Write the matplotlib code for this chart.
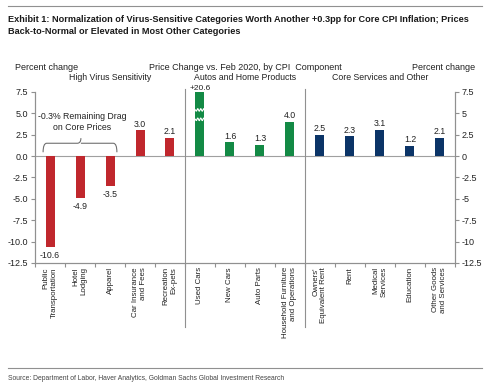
import numpy as np
import matplotlib
matplotlib.use('Agg')
import matplotlib.pyplot as plt
from matplotlib.path import Path
from matplotlib.patches import PathPatch
from matplotlib.lines import Line2D

# ---------------- data ----------------
categories = ['Public\nTransportation', 'Hotel\nLodging', 'Apparel', 'Car Insurance\nand Fees',
              'Recreation\nEx-pets', 'Used Cars', 'New Cars', 'Auto Parts',
              'Household Furniture\nand Operations', "Owners'\nEquivalent Rent", 'Rent',
              'Medical\nServices', 'Education', 'Other Goods\nand Services']
values = [-10.6, -4.9, -3.5, 3.0, 2.1, 20.6, 1.6, 1.3, 4.0, 2.5, 2.3, 3.1, 1.2, 2.1]
group_of = [0, 0, 0, 0, 0, 1, 1, 1, 1, 2, 2, 2, 2, 2]
group_names = ['High Virus Sensitivity', 'Autos and Home Products', 'Core Services and Other']
group_colors = ['#C0272D', '#138A45', '#0B3467']
yticks = [7.5, 5.0, 2.5, 0.0, -2.5, -5.0, -7.5, -10.0, -12.5]

YMIN, YMAX = -12.5, 7.5
FONT = ['Liberation Sans', 'DejaVu Sans']
plt.rcParams['font.family'] = FONT
txt = '#222222'

fig = plt.figure(figsize=(5.0, 3.89), dpi=100)
ax = fig.add_axes([0.07, 0.324, 0.84, 0.4396])

x = np.arange(len(values))
shown = np.clip(values, YMIN, YMAX)
cols = [group_colors[g] for g in group_of]
ax.bar(x, shown, width=0.3, color=cols, zorder=3)

# value labels
for xi, v, s in zip(x, values, shown):
    if v > YMAX:
        ax.text(xi, s + 0.02, f'+{v:.1f}', ha='center', va='bottom', fontsize=6, color=txt)
    elif v >= 0:
        ax.text(xi, s + 0.2, f'{v:.1f}', ha='center', va='bottom', fontsize=6.3, color=txt)
    else:
        ax.text(xi, s - 0.45, f'{v:.1f}', ha='center', va='top', fontsize=6.3, color=txt)

# break marks on truncated bar
for xi, v in zip(x, values):
    if v > YMAX:
        for yb in (4.3, 5.4):
            xs = np.linspace(xi - 0.15, xi + 0.15, 30)
            ax.plot(xs, yb + 0.15 * np.sin((xs - xi) * 2 * np.pi / 0.1), color='white', lw=0.8, zorder=4)

ax.set_xlim(-0.5, len(values) - 0.5)
ax.set_ylim(YMIN, YMAX)
ax.axhline(0, color='#a0a0a0', lw=0.8, zorder=2)

# group separators
bounds = [i + 0.5 for i in range(len(values) - 1) if group_of[i] != group_of[i + 1]]
for b in bounds:
    ax.add_line(Line2D([b, b], [YMAX + 0.3, YMIN - 7.5], color='#909090', lw=0.8, clip_on=False))

ax.set_xticks(np.arange(-0.5, len(values)), minor=False)
ax.set_xticklabels([])
ax.set_xticks(x, minor=True)
ax.set_xticklabels(categories, minor=True, rotation=90, fontsize=5.7, color=txt)
for lab in ax.get_xticklabels(minor=True):
    lab.set_multialignment('right')
ax.tick_params(axis='x', which='minor', length=0, pad=3)
ax.tick_params(axis='x', which='major', length=3, color='#909090')

ax.set_yticks(yticks)
ax.set_yticklabels([f'{t:.1f}' for t in yticks], fontsize=6.5, color=txt)
ax.tick_params(axis='y', length=3, color='#909090', pad=2)

ax2 = ax.twinx()
ax2.set_ylim(YMIN, YMAX)
ax2.set_yticks(yticks)
ax2.set_yticklabels([f'{t:g}' for t in yticks], fontsize=6.5, color=txt)
ax2.tick_params(axis='y', length=3, color='#909090', pad=2)

for a in (ax, ax2):
    a.spines['top'].set_visible(False)
    for s in ('left', 'right', 'bottom'):
        a.spines[s].set_color('#909090')
        a.spines[s].set_linewidth(0.8)

# curly brace over the first three bars
x0, x1, xc = -0.23, 2.23, 1.03
yl, ym, yt = 0.45, 1.5, 2.1
verts = [(x0, yl), (x0, ym), (x0 + 0.12, ym), (xc - 0.12, ym), (xc, ym), (xc, yt),
         (xc, ym), (xc + 0.12, ym), (x1 - 0.12, ym), (x1, ym), (x1, yl)]
codes = [Path.MOVETO, Path.CURVE3, Path.CURVE3, Path.LINETO, Path.CURVE3, Path.CURVE3,
         Path.MOVETO, Path.CURVE3, Path.LINETO, Path.CURVE3, Path.CURVE3]
ax.add_patch(PathPatch(Path(verts, codes), fill=False, ec='#707070', lw=0.8, zorder=3))
ax.text(1.07, 4.0, '-0.3% Remaining Drag\non Core Prices', ha='center', va='center',
        fontsize=6.3, color=txt)

# header texts
fig.text(0.03, 1 - 67 / 389, 'Percent change', fontsize=6.5, color=txt, va='center')
fig.text(0.95, 1 - 67 / 389, 'Percent change', fontsize=6.5, color=txt, va='center', ha='right')
fig.text(0.49, 1 - 67 / 389, 'Price Change vs. Feb 2020, by CPI  Component', fontsize=6.5,
         color=txt, va='center', ha='center')
for g, name in enumerate(group_names):
    gx = np.mean([xi for xi, gg in zip(x, group_of) if gg == g])
    fx = fig.transFigure.inverted().transform(ax.transData.transform((gx, 0)))[0]
    fig.text(fx, 1 - 78 / 389, name, fontsize=6.3, color=txt, va='center', ha='center')

# title, rules and source
fig.add_artist(Line2D([0.016, 0.964], [1 - 6 / 389] * 2, color='#909090', lw=0.8))
fig.add_artist(Line2D([0.016, 0.964], [1 - 368 / 389] * 2, color='#909090', lw=0.8))
t1 = fig.text(0.016, 1 - 19 / 389,
              'Exhibit 1: Normalization of Virus-Sensitive Categories Worth Another +0.3pp for Core CPI Inflation; Prices',
              fontsize=8, fontweight='bold', color='#1a1a1a', va='center')
t2 = fig.text(0.016, 1 - 32 / 389, 'Back-to-Normal or Elevated in Most Other Categories',
              fontsize=8, fontweight='bold', color='#1a1a1a', va='center')
src = fig.text(0.016, 1 - 378 / 389,
               'Source: Department of Labor, Haver Analytics, Goldman Sachs Global Investment Research',
               fontsize=6, color='#444444', va='center')

# fit title and source widths to the reference line lengths
r = fig.canvas.get_renderer()
w1 = t1.get_window_extent(r).width
for t in (t1, t2):
    t.set_fontsize(8 * 458 / w1)
ws = src.get_window_extent(r).width
src.set_fontsize(6 * 280 / ws)

fig.savefig('out.png', dpi=100)
